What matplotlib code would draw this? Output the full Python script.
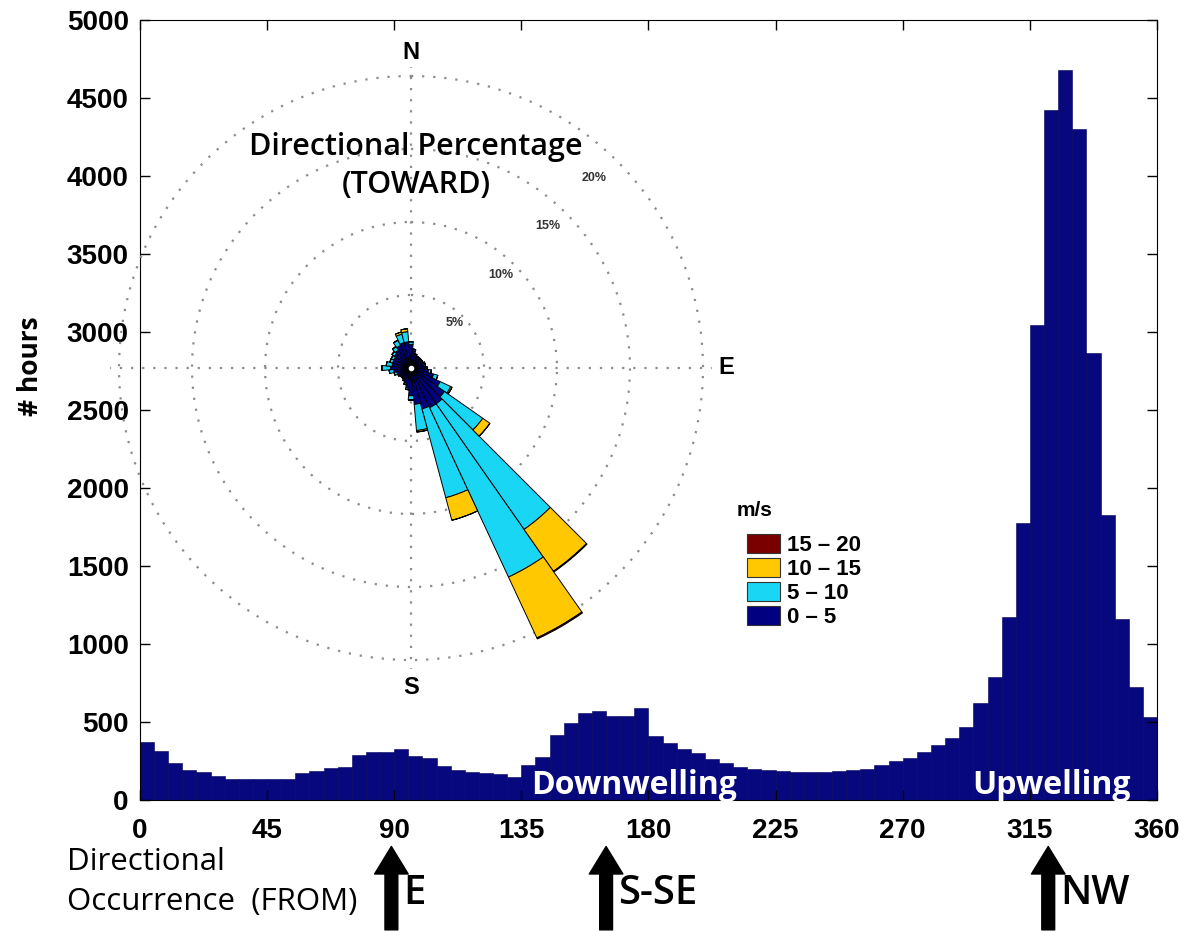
import numpy as np
import matplotlib.pyplot as plt
from matplotlib.patches import Patch

# ---- histogram: hours per 5-degree bin of wind direction (FROM) ----
bin_edges = np.arange(0, 365, 5)
hours = [374, 312, 235, 190, 182, 154, 135, 136, 135, 135, 138, 171,
         188, 203, 214, 288, 307, 307, 325, 285, 270, 217, 195, 182,
         171, 165, 150, 225, 275, 420, 495, 555, 570, 540, 540, 590,
         410, 365, 330, 300, 265, 240, 214, 200, 195, 185, 178, 178,
         180, 185, 190, 200, 225, 250, 270, 310, 353, 395, 470, 620,
         791, 1175, 1778, 3045, 4423, 4679, 4300, 2863, 1830, 1160, 726, 534]
x_ticks = np.arange(0, 361, 45)
y_ticks = np.arange(0, 5001, 500)

# ---- wind rose: percentage per 10-degree sector (TOWARD), by speed class ----
rose_dirs = np.arange(0, 360, 10)
pct_0_5 = [1.6, 1.2, 0.9, 0.8, 0.8, 0.8, 0.8, 0.9, 0.9, 1.0, 1.2, 1.6,
           2.2, 2.8, 3.0, 3.0, 2.9, 2.5, 1.9, 1.4, 1.1, 0.9, 0.8, 0.8,
           0.9, 1.0, 1.2, 1.4, 1.3, 1.3, 1.3, 1.4, 1.5, 1.7, 1.8, 1.8]
pct_5_10 = [0.2, 0.1, 0.1, 0.1, 0.1, 0.1, 0.1, 0.1, 0.1, 0.1, 0.2, 0.3,
            0.8, 3.2, 10.5, 12.8, 6.3, 1.8, 0.3, 0.1, 0.1, 0.1, 0.1, 0.1,
            0.1, 0.2, 0.3, 0.6, 0.4, 0.2, 0.2, 0.2, 0.3, 0.4, 0.6, 0.7]
pct_10_15 = [0, 0, 0, 0, 0, 0, 0, 0, 0, 0, 0, 0,
             0.1, 0.6, 3.5, 4.6, 1.6, 0.1, 0, 0, 0, 0, 0, 0,
             0, 0, 0, 0, 0, 0, 0, 0, 0, 0, 0.15, 0.2]
pct_15_20 = [0, 0, 0, 0, 0, 0, 0, 0, 0, 0, 0, 0,
             0, 0, 0.06, 0.08, 0, 0, 0, 0, 0, 0, 0, 0,
             0, 0, 0, 0, 0, 0, 0, 0, 0, 0, 0, 0]
speed_labels = ['0 – 5', '5 – 10', '10 – 15', '15 – 20']
pct_rings = [5, 10, 15, 20]

# annotated source directions under the x axis
arrow_dirs = [89, 165, 321.5]
arrow_names = ['E', 'S-SE', 'NW']

navy = '#08087e'
speed_colors = ['#000080', '#1ad6f5', '#ffc800', '#7a0000']
calibri_like = ['Open Sans', 'DejaVu Sans']
arial_like = ['Liberation Sans', 'DejaVu Sans']

fig = plt.figure(figsize=(11.89, 9.32), dpi=100)
ax = fig.add_axes([0.1177, 0.1416, 0.8554, 0.8369])

ax.bar(bin_edges[:-1], hours, width=5, align='edge', color=navy,
       edgecolor='#00005e', linewidth=0.4)
ax.set_xlim(0, 360)
ax.set_ylim(0, 5000)
ax.set_xticks(x_ticks)
ax.set_yticks(y_ticks)
ax.tick_params(direction='in', length=7, top=True, right=True, width=1)
for lab in ax.get_xticklabels() + ax.get_yticklabels():
    lab.set_family(arial_like)
    lab.set_fontweight('bold')
    lab.set_fontsize(20)
ax.tick_params(axis='x', pad=13)
ax.tick_params(axis='y', pad=8)
fig.text(31 / 1189, 1 - 366 / 932, '# hours', rotation=90, ha='center', va='center',
         family=calibri_like, fontweight='bold', fontsize=19)

ax.text(175, 95, 'Downwelling', color='white', ha='center', va='center',
        family=calibri_like, fontweight='bold', fontsize=23)
ax.text(322.5, 95, 'Upwelling', color='white', ha='center', va='center',
        family=calibri_like, fontweight='bold', fontsize=23)

# arrows and labels below the axis
trans = ax.get_xaxis_transform()
for d, name in zip(arrow_dirs, arrow_names):
    ax.annotate('', xy=(d, -0.056), xytext=(d, -0.17), xycoords=trans,
                textcoords=trans, annotation_clip=False,
                arrowprops=dict(arrowstyle='simple,head_length=0.9,head_width=1.1,tail_width=0.42',
                                mutation_scale=22, color='black'))
    ax.text(d + 4.2, -0.12, name, transform=trans, ha='left', va='center',
            family=calibri_like, fontweight='semibold', fontsize=29)
fig.text(67 / 1189, 1 - 862 / 932, 'Directional', ha='left', va='center',
         family=calibri_like, fontsize=22.5)
fig.text(67 / 1189, 1 - 902 / 932, 'Occurrence  (FROM)', ha='left', va='center',
         family=calibri_like, fontsize=22.5)

# ---- wind rose inset ----
rmax = 20.6
side = 2 * 292 * rmax / 20
cx, cy = 411, 368
axr = fig.add_axes([(cx - side / 2) / 1189, (932 - cy - side / 2) / 932,
                    side / 1189, side / 932], projection='polar')
axr.set_theta_zero_location('N')
axr.set_theta_direction(-1)
axr.patch.set_visible(False)
axr.spines['polar'].set_visible(False)

theta = np.deg2rad(rose_dirs)
width = np.deg2rad(10)
bottom = np.zeros(len(rose_dirs))
for vals, col in zip([pct_0_5, pct_5_10, pct_10_15, pct_15_20], speed_colors):
    vals = np.array(vals)
    axr.bar(theta, vals, width=width, bottom=bottom, color=col,
            edgecolor='black', linewidth=0.7, zorder=3)
    bottom += vals
axr.plot(0, 0, 'o', color='white', ms=3, zorder=4)

axr.set_ylim(0, rmax)
axr.set_rgrids(pct_rings, labels=[])
axr.set_thetagrids([0, 90, 180, 270], labels=[])
axr.grid(True, color='#8c8c8c', linestyle=(0, (1, 4)), linewidth=1.6)
for t in pct_rings:
    axr.text(np.deg2rad(44), t * 0.92 - 0.3, f'{t}%', ha='center', va='center',
             fontsize=9, fontweight='bold', family=arial_like, color='#333333')
axr.text(0, 21.6, 'N', ha='center', va='center', fontsize=17, fontweight='bold',
         family=arial_like)
axr.text(np.pi / 2, 21.6, 'E', ha='center', va='center', fontsize=17, fontweight='bold',
         family=arial_like)
axr.text(np.pi, 21.9, 'S', ha='center', va='center', fontsize=17, fontweight='bold',
         family=arial_like)

fig.text(416 / 1189, 1 - 166 / 932, 'Directional Percentage\n(TOWARD)', ha='center',
         va='center', family=calibri_like, fontweight='semibold', fontsize=22,
         linespacing=1.35)

# speed legend (title placed on its own, a bit above the entries)
fig.text(737 / 1189, 1 - 511 / 932, 'm/s', ha='left', va='center',
         family=arial_like, fontweight='bold', fontsize=15)
handles = [Patch(facecolor=c, edgecolor='#333333', linewidth=0.8) for c in speed_colors][::-1]
leg = fig.legend(handles, speed_labels[::-1], loc='upper left',
                 bbox_to_anchor=(727 / 1189, 1 - 514 / 932), frameon=False,
                 prop={'family': arial_like, 'weight': 'bold', 'size': 16},
                 handlelength=1.5, handleheight=0.95, labelspacing=0.08,
                 handletextpad=0.3)

fig.savefig('out.png', dpi=100)
